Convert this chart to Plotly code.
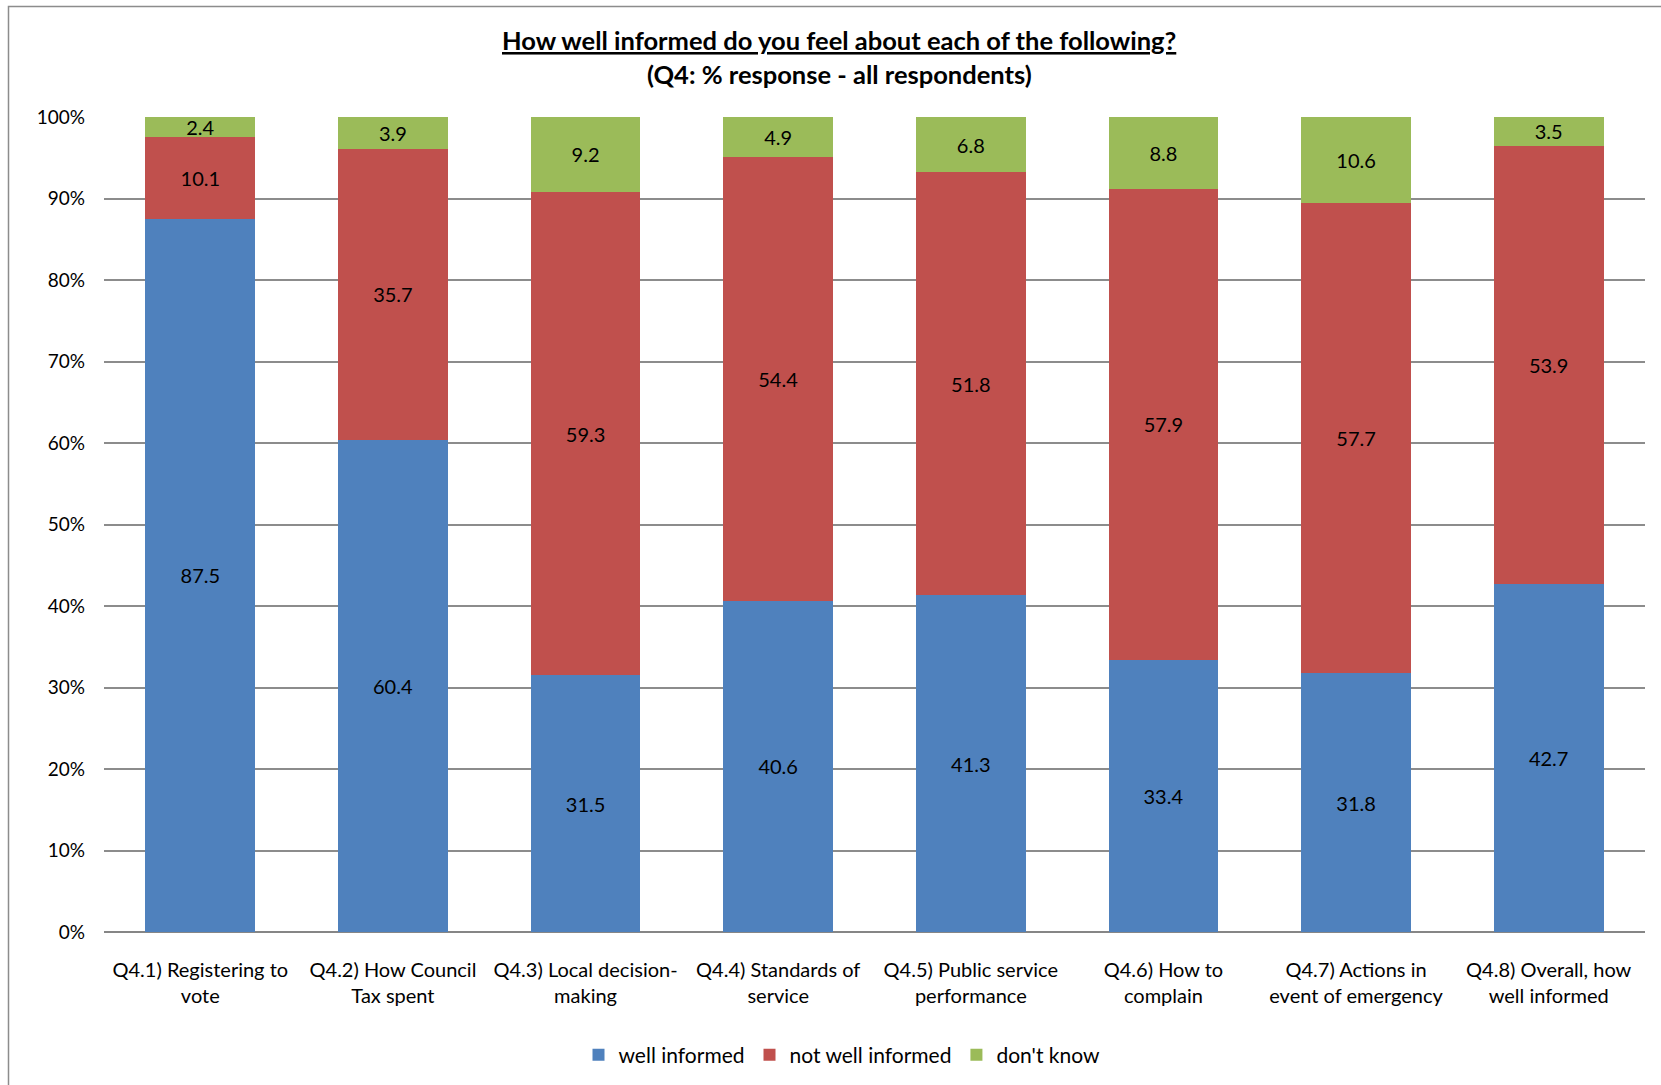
import plotly.graph_objects as go

categories = [
    "Q4.1) Registering to<br>vote",
    "Q4.2) How Council<br>Tax spent",
    "Q4.3) Local decision-<br>making",
    "Q4.4) Standards of<br>service",
    "Q4.5) Public service<br>performance",
    "Q4.6) How to<br>complain",
    "Q4.7) Actions in<br>event of emergency",
    "Q4.8) Overall, how<br>well informed",
]
well_informed = [87.5, 60.4, 31.5, 40.6, 41.3, 33.4, 31.8, 42.7]
not_well_informed = [10.1, 35.7, 59.3, 54.4, 51.8, 57.9, 57.7, 53.9]
dont_know = [2.4, 3.9, 9.2, 4.9, 6.8, 8.8, 10.6, 3.5]
y_ticks = [0, 10, 20, 30, 40, 50, 60, 70, 80, 90, 100]
y_tick_labels = [f"{v}%" for v in y_ticks]

FONT = "Lato"
W, H = 1661, 1085
L, R, T, B = 104, 16, 117, 153
PW, PH = W - L - R, H - T - B


def px_x(x):
    return (x - L) / PW


def px_y(y):
    return (H - B - y) / PH


series = [
    ("well informed", well_informed, "#4F81BD"),
    ("not well informed", not_well_informed, "#C0504D"),
    ("don't know", dont_know, "#9BBB59"),
]

fig = go.Figure()
for name, vals, color in series:
    fig.add_trace(go.Bar(
        x=categories, y=vals, name=name,
        marker=dict(color=color, line=dict(width=0)),
        text=[f"{v:.1f}" for v in vals],
        textposition="inside", insidetextanchor="middle",
        textfont=dict(family=FONT, size=20, color="#000000"),
        constraintext="none",
    ))

fig.update_layout(
    width=W, height=H,
    margin=dict(l=L, r=R, t=T, b=B, autoexpand=False),
    barmode="stack", barnorm="percent", bargap=0.43,
    plot_bgcolor="white", paper_bgcolor="white",
    font=dict(family=FONT, size=20, color="#000000"),
    uniformtext=dict(minsize=20, mode="show"),
    showlegend=True,
    legend=dict(
        orientation="h", x=px_x(842), y=px_y(1055),
        xanchor="center", yanchor="middle",
        font=dict(family=FONT, size=21), itemwidth=30,
        traceorder="normal",
    ),
    xaxis=dict(
        showgrid=False, showline=False, ticks="", automargin=False,
        tickfont=dict(family=FONT, size=20), ticklabelstandoff=24,
    ),
    yaxis=dict(
        range=[0, 100], tickvals=y_ticks, ticktext=y_tick_labels,
        showgrid=True, gridcolor="#8C8C8C", gridwidth=1.5,
        zeroline=True, zerolinecolor="#868686", zerolinewidth=2,
        showline=False, ticks="", ticklabelstandoff=18, automargin=False,
        tickfont=dict(family=FONT, size=19),
    ),
    annotations=[
        dict(text="<b><u>How well informed do you feel about each of the following?</u></b>",
             x=px_x(839), y=px_y(40), xref="paper", yref="paper",
             showarrow=False, xanchor="center", yanchor="middle",
             font=dict(family=FONT, size=25.5, color="#000000")),
        dict(text="<b>(Q4: % response - all respondents)</b>",
             x=px_x(839), y=px_y(74), xref="paper", yref="paper",
             showarrow=False, xanchor="center", yanchor="middle",
             font=dict(family=FONT, size=25.5, color="#000000")),
    ],
    shapes=[
        dict(type="rect", xref="paper", yref="paper",
             x0=px_x(8.5), x1=px_x(1720), y0=px_y(6.5), y1=px_y(1140),
             line=dict(color="#8C8C8C", width=1.5), fillcolor="rgba(0,0,0,0)",
             layer="below"),
    ],
)

fig.write_html("out.html")
